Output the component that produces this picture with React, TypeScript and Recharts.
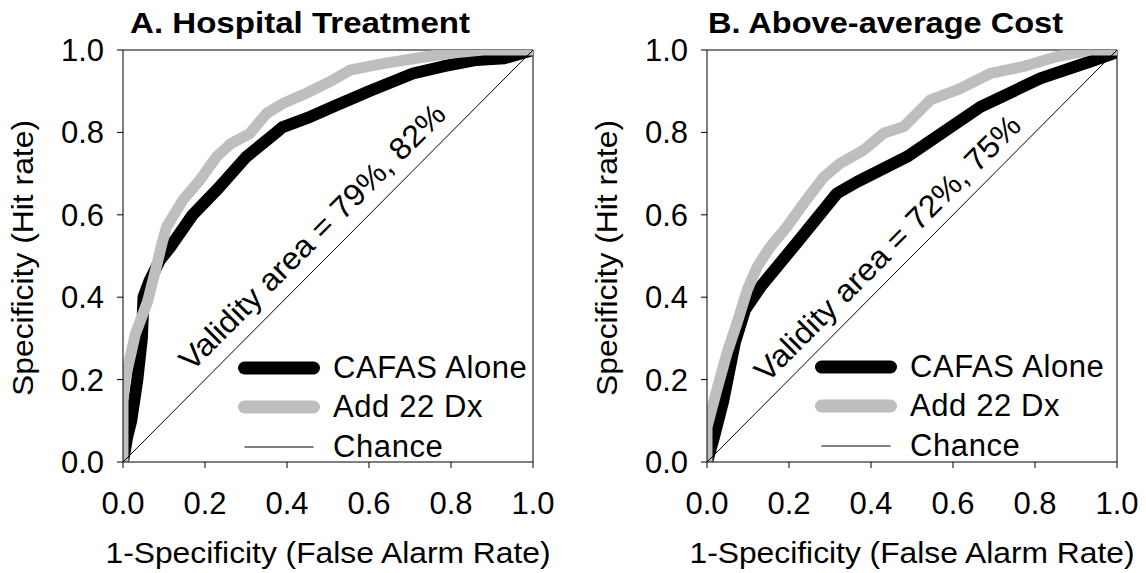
import { LineChart, Line, XAxis, YAxis, ReferenceLine, ReferenceDot, Legend, Customized } from "recharts"

const FONT = "'Liberation Sans', Arial, sans-serif"
const GRAY = "#bebebe"

const axisTicks = [0, 0.2, 0.4, 0.6, 0.8, 1.0]
const seriesNames = ["CAFAS Alone", "Add 22 Dx", "Chance"]
const legendStroke = [13, 13, 1]

// [false alarm rate, hit rate]
const hospitalCafas: [number, number][] = [
  [0, 0], [0.01, 0.06], [0.02, 0.1], [0.035, 0.2], [0.046, 0.3], [0.05, 0.4], [0.065, 0.44],
  [0.09, 0.49], [0.114, 0.52], [0.17, 0.6], [0.233, 0.665], [0.3, 0.74], [0.374, 0.8],
  [0.388, 0.812], [0.45, 0.835], [0.512, 0.862], [0.6, 0.9], [0.707, 0.943], [0.78, 0.96],
  [0.862, 0.976], [0.93, 0.98], [1, 1],
]
const hospitalDx: [number, number][] = [
  [0, 0], [0, 0.15], [0.005, 0.2], [0.03, 0.31], [0.06, 0.39], [0.078, 0.46], [0.095, 0.53],
  [0.106, 0.57], [0.146, 0.636], [0.187, 0.684], [0.228, 0.741], [0.262, 0.772], [0.309, 0.797],
  [0.35, 0.846], [0.39, 0.87], [0.447, 0.895], [0.512, 0.927], [0.553, 0.951], [0.634, 0.967],
  [0.715, 0.98], [0.797, 0.992], [0.878, 1], [1, 1],
]
const costCafas: [number, number][] = [
  [0, 0], [0.015, 0.053], [0.04, 0.15], [0.068, 0.29], [0.093, 0.37], [0.132, 0.427],
  [0.215, 0.527], [0.317, 0.652], [0.366, 0.68], [0.488, 0.741], [0.667, 0.862],
  [0.813, 0.931], [0.935, 0.972], [1, 0.995],
]
const costDx: [number, number][] = [
  [0, 0], [0, 0.085], [0.024, 0.175], [0.049, 0.265], [0.073, 0.337], [0.098, 0.417], [0.122, 0.473],
  [0.154, 0.522], [0.195, 0.571], [0.236, 0.628], [0.285, 0.692], [0.325, 0.725],
  [0.382, 0.757], [0.431, 0.798], [0.48, 0.814], [0.545, 0.879], [0.61, 0.903], [0.691, 0.943],
  [0.772, 0.96], [0.854, 0.984], [0.935, 1], [1, 1],
]
const chance: [number, number][] = [[0, 0], [1, 1]]

const toPoints = (pts: [number, number][]) => pts.map(([x, y]) => ({ x, y }))
const fmt = (v: number) => v.toFixed(1)

const XLabel = ({ viewBox }: any) => (
  <text x={viewBox.x + viewBox.width / 2} y={viewBox.y + 101} textAnchor="middle"
    fontFamily={FONT} fontSize={30} fill="#000" textLength={445} lengthAdjust="spacingAndGlyphs">
    1-Specificity (False Alarm Rate)
  </text>
)
const YLabel = ({ viewBox }: any) => {
  const x = viewBox.x + 33
  const y = viewBox.y + viewBox.height / 2 + 2
  return (
    <text x={x} y={y} transform={`rotate(-90, ${x}, ${y})`} textAnchor="middle"
      fontFamily={FONT} fontSize={30} fill="#000" textLength={276} lengthAdjust="spacingAndGlyphs">
      Specificity (Hit rate)
    </text>
  )
}

const renderLegend = ({ payload }: any) => {
  const items = [...(payload || [])].sort(
    (a: any, b: any) => seriesNames.indexOf(a.value) - seriesNames.indexOf(b.value))
  return (
    <div style={{ fontFamily: FONT, fontSize: 31, color: "#000", letterSpacing: 0.6 }}>
      {items.map((entry: any) => {
        const i = seriesNames.indexOf(entry.value)
        return (
          <div key={entry.value} style={{ display: "flex", alignItems: "center", height: 39.5 }}>
            <svg width={82} height={20}>
              <line x1={6.5} y1={10} x2={75.5} y2={10} stroke={entry.color} strokeWidth={legendStroke[i]}
                strokeLinecap={i < 2 ? "round" : "butt"} />
            </svg>
            <span style={{ marginLeft: 13 }}>{entry.value}</span>
          </div>
        )
      })}
    </div>
  )
}

interface PanelProps {
  title: string
  titleX: number
  titleLength: number
  cafas: [number, number][]
  dx: [number, number][]
  area: string
  areaAt: [number, number]
  legendLeft: number
  legendTop: number
  width: number
}

function RocPanel({ title, titleX, titleLength, cafas, dx, area, areaAt, legendLeft, legendTop, width }: PanelProps) {
  const AreaLabel = ({ viewBox }: any) => {
    const x = viewBox.x + viewBox.width / 2
    const y = viewBox.y + viewBox.height / 2
    return (
      <text x={x} y={y} dy="0.35em" transform={`rotate(-45, ${x}, ${y})`} textAnchor="middle"
        fontFamily={FONT} fontSize={31} fill="#000" textLength={362} lengthAdjust="spacingAndGlyphs">
        {area}
      </text>
    )
  }
  return (
    <LineChart width={width} height={573} margin={{ top: 50, right: width - 533, bottom: 0, left: 0 }}>
      <XAxis dataKey="x" type="number" domain={[0, 1]} ticks={axisTicks} tickFormatter={fmt}
        height={111} axisLine={{ stroke: "#000" }} tickLine={{ stroke: "#000" }} tickSize={6} tickMargin={24}
        tick={{ fill: "#000", fontSize: 31, fontFamily: FONT }} label={XLabel} allowDataOverflow />
      <YAxis dataKey="y" type="number" domain={[0, 1]} ticks={axisTicks} tickFormatter={fmt}
        width={123} axisLine={{ stroke: "#000" }} tickLine={{ stroke: "#000" }} tickSize={6} tickMargin={13}
        tick={{ fill: "#000", fontSize: 31, fontFamily: FONT }} label={YLabel} allowDataOverflow />
      <ReferenceLine y={1} stroke="#000" />
      <ReferenceLine x={1} stroke="#000" />
      <Line data={toPoints(cafas)} dataKey="y" name="CAFAS Alone" type="linear" stroke="#000" strokeWidth={12}
        strokeLinejoin="round" strokeLinecap="round" dot={false} isAnimationActive={false} />
      <Line data={toPoints(dx)} dataKey="y" name="Add 22 Dx" type="linear" stroke={GRAY} strokeWidth={11}
        strokeLinejoin="round" strokeLinecap="round" dot={false} isAnimationActive={false} />
      <Line data={toPoints(chance)} dataKey="y" name="Chance" type="linear" stroke="#000" strokeWidth={1}
        dot={false} isAnimationActive={false} />
      <ReferenceDot x={areaAt[0]} y={areaAt[1]} r={0} fill="none" stroke="none" label={AreaLabel} />
      <Legend layout="vertical" align="center" verticalAlign="middle" content={renderLegend}
        wrapperStyle={{ left: legendLeft, top: legendTop, width: 330 }} />
      <Customized component={() => (
        <text x={titleX} y={33} fontFamily={FONT} fontSize={30} fontWeight="bold" fill="#000"
          textLength={titleLength} lengthAdjust="spacingAndGlyphs">{title}</text>
      )} />
    </LineChart>
  )
}

export default function App() {
  return (
    <div style={{ position: "absolute", left: 0, top: 0, width: 1146, height: 573, background: "#fff", overflow: "hidden" }}>
      <div style={{ position: "absolute", left: 0, top: 0 }}>
        <RocPanel title="A. Hospital Treatment" titleX={130} titleLength={340} cafas={hospitalCafas} dx={hospitalDx}
          area="Validity area = 79%, 82%" areaAt={[0.461, 0.547]} legendLeft={238} legendTop={348} width={580} />
      </div>
      <div style={{ position: "absolute", left: 584, top: 0 }}>
        <RocPanel title="B. Above-average Cost" titleX={124} titleLength={355} cafas={costCafas} dx={costDx}
          area="Validity area = 72%, 75%" areaAt={[0.44, 0.52]} legendLeft={231} legendTop={347} width={562} />
      </div>
    </div>
  )
}
